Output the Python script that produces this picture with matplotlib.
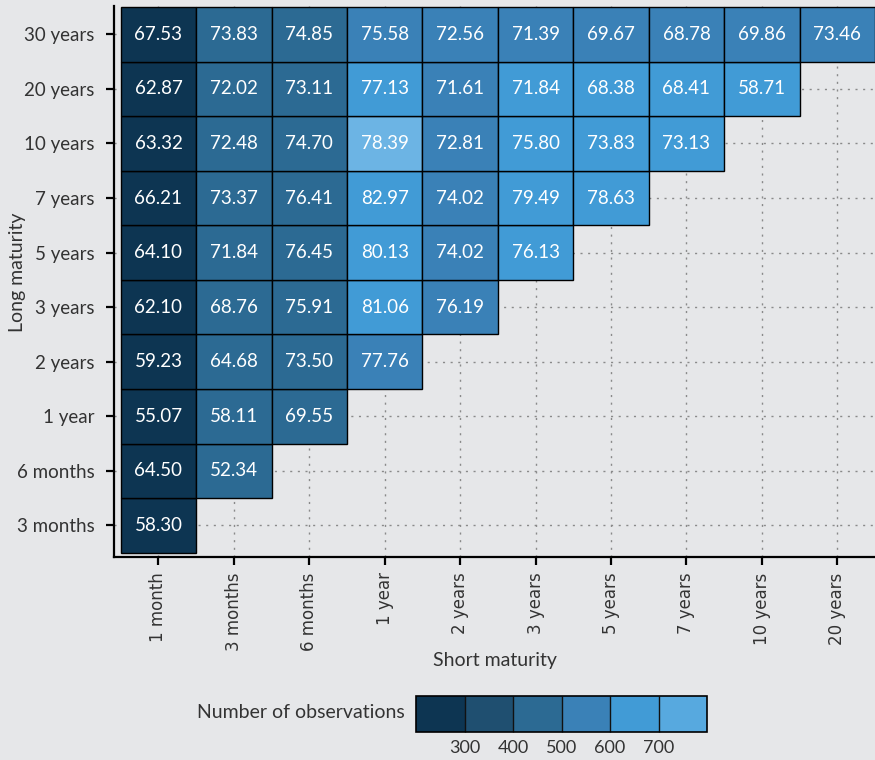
import numpy as np
import matplotlib
matplotlib.use("Agg")
import matplotlib.pyplot as plt
from matplotlib.colors import ListedColormap, BoundaryNorm
from matplotlib.patches import Rectangle
import matplotlib.colorbar as mcolorbar

# Short maturity (columns) and long maturity (rows, bottom to top)
short_labels = ["1 month", "3 months", "6 months", "1 year", "2 years",
                "3 years", "5 years", "7 years", "10 years", "20 years"]
long_labels = ["3 months", "6 months", "1 year", "2 years", "3 years",
               "5 years", "7 years", "10 years", "20 years", "30 years"]

# cell values, one list per long maturity (bottom row first)
values = [
    [58.30],
    [64.50, 52.34],
    [55.07, 58.11, 69.55],
    [59.23, 64.68, 73.50, 77.76],
    [62.10, 68.76, 75.91, 81.06, 76.19],
    [64.10, 71.84, 76.45, 80.13, 74.02, 76.13],
    [66.21, 73.37, 76.41, 82.97, 74.02, 79.49, 78.63],
    [63.32, 72.48, 74.70, 78.39, 72.81, 75.80, 73.83, 73.13],
    [62.87, 72.02, 73.11, 77.13, 71.61, 71.84, 68.38, 68.41, 58.71],
    [67.53, 73.83, 74.85, 75.58, 72.56, 71.39, 69.67, 68.78, 69.86, 73.46],
]

# number of observations (estimated from the fill colours)
n_obs = [
    [260],
    [260, 450],
    [260, 450, 450],
    [260, 450, 450, 550],
    [260, 450, 450, 650, 550],
    [260, 450, 450, 650, 550, 650],
    [260, 450, 450, 650, 550, 650, 650],
    [260, 450, 450, 820, 550, 650, 650, 650],
    [260, 450, 450, 650, 550, 650, 650, 650, 650],
    [260, 450, 450, 550, 550, 550, 550, 550, 550, 550],
]

bounds = [200, 300, 400, 500, 600, 700, 800]
bin_colors = ["#0d3552", "#1f4f70", "#2c6a93", "#3a81b7", "#419bd6", "#57a9df"]

bg = "#e6e7e9"
txt = "#333333"
plt.rcParams["font.family"] = ["Lato", "DejaVu Sans"]

cmap = ListedColormap(bin_colors)
cmap.set_over("#6cb4e4")
norm = BoundaryNorm(bounds, ncolors=cmap.N)

fig = plt.figure(figsize=(8.75, 7.6), dpi=100, facecolor=bg)
ax = fig.add_axes([114/875, 203/760, 761/875, 551/760], facecolor=bg)

# dotted grid behind the tiles
ax.set_axisbelow(True)
ax.grid(True, color="#8a8a8a", linestyle=(0, (1.5, 4)), linewidth=1)

for r, row in enumerate(values):
    for c, v in enumerate(row):
        ax.add_patch(Rectangle((c - 0.5, r - 0.5), 1, 1,
                               facecolor=cmap(norm(n_obs[r][c])),
                               edgecolor="black", linewidth=1, zorder=2))
        ax.text(c, r, "%.2f" % v, color="white", ha="center", va="center",
                fontsize=13.5, zorder=3)

ax.set_xlim(-0.59, 9.5)
ax.set_ylim(-0.58, 9.52)
ax.set_xticks(range(len(short_labels)))
ax.set_xticklabels(short_labels, rotation=90, family="DejaVu Sans",
                   fontsize=12, color=txt)
ax.set_yticks(range(len(long_labels)))
ax.set_yticklabels(long_labels, fontsize=13.5, color=txt)

for s in ["top", "right"]:
    ax.spines[s].set_visible(False)
for s in ["left", "bottom"]:
    ax.spines[s].set_linewidth(1.6)
    ax.spines[s].set_color("black")
ax.tick_params(axis="both", length=6, width=1.6, color="black")
ax.tick_params(axis="x", pad=5)
ax.tick_params(axis="y", pad=8)

ax.set_xlabel("Short maturity", fontsize=14, color=txt)
ax.xaxis.set_label_coords(0.5, -0.187)
ax.xaxis.label.set_va("center")
ax.set_ylabel("Long maturity", fontsize=14, color=txt)
ax.yaxis.set_label_coords(-0.127, 0.517)
ax.yaxis.label.set_va("center")

# binned legend
cax = fig.add_axes([416/875, 28/760, 291/875, 36/760])
cb = mcolorbar.ColorbarBase(cax, cmap=ListedColormap(bin_colors),
                            norm=BoundaryNorm(bounds, ncolors=6),
                            orientation="horizontal", drawedges=True)
cb.set_ticks(bounds[1:-1])
cb.ax.minorticks_off()
cb.ax.tick_params(which="both", length=0, pad=6, labelsize=13, labelcolor=txt)
cb.outline.set_edgecolor("black")
cb.outline.set_linewidth(1.2)
cb.dividers.set_color("#111111")
cb.dividers.set_linewidth(1)
fig.text(405/875, 1 - 713/760, "Number of observations", ha="right",
         va="center", fontsize=14, color=txt)

fig.savefig("out.png", dpi=100, facecolor=bg)
